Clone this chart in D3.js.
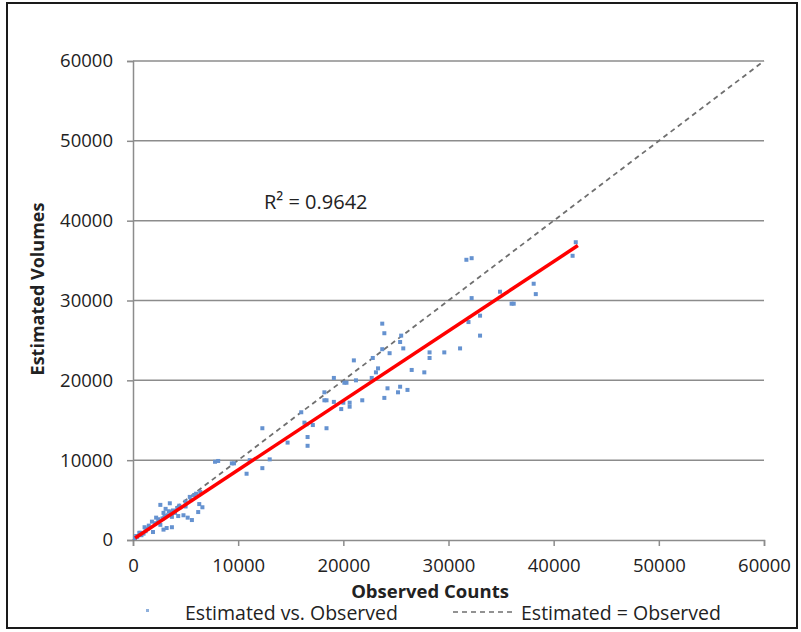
<!DOCTYPE html>
<html>
<head>
<meta charset="utf-8">
<script src="https://cdn.jsdelivr.net/npm/d3@7"></script>
<style>
  body { margin: 0; background: #fff; }
  text { font-family: "Open Sans", "Liberation Sans", sans-serif; fill: #222; }
</style>
</head>
<body>
<div id="chart"></div>
<script>
// chart data (observed count, estimated volume)
var observed = [42100, 41800, 31700, 32200, 32200, 34900, 36000, 36200, 38100, 38300,
  31900, 33000, 33000, 31100, 29600, 28200, 28200, 26500, 27700, 25400,
  25700, 25500, 23900, 23700, 24400, 23700, 22800, 21000, 23300, 23100,
  19100, 20100, 20300, 21200, 22700, 24200, 25400, 25200, 26100, 23900,
  18200, 18200, 18400, 19100, 20000, 19800, 20600, 20600, 21800, 16300,
  17100, 18400, 16000, 16500, 16600, 16600, 14700, 12300, 7800, 8100,
  9400, 9600, 11100, 13000, 12300, 10800,
  2600, 3500, 4500, 2900, 3300, 3700, 1800, 2100, 2600, 4800,
  5200, 5600, 6200, 6600, 1100, 1400, 700, 1000, 400, 200,
  2900, 3200, 3700, 1900, 6000, 6400, 5400,
  2400, 2800, 3000, 3400, 3800, 4200, 4000, 4400, 5000, 5500,
  1500, 1200, 800, 600, 300, 2200, 3100, 4300, 5800, 6300, 5000];
var estimated = [37300, 35600, 35100, 35300, 30300, 31100, 29600, 29600, 32100, 30800,
  27300, 28100, 25600, 24000, 23500, 23500, 22800, 21300, 21000, 24800,
  24000, 25600, 25900, 27100, 23400, 23900, 22800, 22500, 21500, 21000,
  20300, 19700, 19700, 20000, 20300, 19000, 19200, 18500, 18800, 17800,
  18500, 17500, 17500, 17300, 17200, 16400, 17200, 16700, 17500, 14700,
  14400, 14000, 16000, 14500, 12900, 11800, 12200, 14000, 9800, 9900,
  9600, 9600, 10000, 10100, 9000, 8300,
  4400, 4600, 4100, 3400, 3100, 2900, 2300, 2100, 1900, 3100,
  2800, 2500, 3500, 4100, 1600, 1400, 900, 800, 400, 250,
  1300, 1500, 1600, 1000, 5800, 6000, 5400,
  2600, 2700, 3000, 3600, 3700, 4000, 3400, 4300, 4800, 5000,
  1800, 1100, 600, 900, 500, 2800, 3900, 3000, 5600, 4500, 4200];

// linear trendline ends and R² label
var trendX = [200, 42300];
var trendY = [250, 36880];
var rSquared = "R² = 0.9642";

var ticks = [0, 10000, 20000, 30000, 40000, 50000, 60000];
var legendLabels = ["Estimated vs. Observed", "Estimated = Observed"];

var width = 801, height = 632;
var svg = d3.select("#chart").append("svg")
  .attr("width", width)
  .attr("height", height);

// outer frame
svg.append("rect")
  .attr("x", 7).attr("y", 3)
  .attr("width", 790).attr("height", 625)
  .attr("fill", "#fff")
  .attr("stroke", "#1a1a1a")
  .attr("stroke-width", 2);

var x = d3.scaleLinear().domain([0, 60000]).range([133, 764]);
var y = d3.scaleLinear().domain([0, 60000]).range([540, 61]);

// horizontal gridlines
svg.selectAll("line.grid").data(ticks.slice(1))
  .enter().append("line")
  .attr("class", "grid")
  .attr("x1", x(0)).attr("x2", x(60000))
  .attr("y1", d => y(d)).attr("y2", d => y(d))
  .attr("stroke", "#8c8c8c")
  .attr("stroke-width", 1.5);

// y axis
var yAxis = svg.append("g")
  .attr("transform", "translate(" + x(0) + ",0)")
  .call(d3.axisLeft(y).tickValues(ticks).tickFormat(d3.format("d")).tickSize(6).tickPadding(14));
// x axis
var xAxis = svg.append("g")
  .attr("transform", "translate(0," + y(0) + ")")
  .call(d3.axisBottom(x).tickValues(ticks).tickFormat(d3.format("d")).tickSize(6).tickPadding(13));

[xAxis, yAxis].forEach(function(a){
  a.select(".domain").attr("stroke", "#8c8c8c").attr("stroke-width", 1.5);
  a.selectAll(".tick line").attr("stroke", "#8c8c8c").attr("stroke-width", 1.5);
  a.selectAll(".tick text")
    .attr("fill", "#222")
    .style("font-family", "'Open Sans', sans-serif")
    .style("font-size", "18.5px");
});

// 1:1 reference line
svg.append("line")
  .attr("x1", x(0)).attr("y1", y(0))
  .attr("x2", x(60000)).attr("y2", y(60000))
  .attr("stroke", "#6f6f6f")
  .attr("stroke-width", 1.8)
  .attr("stroke-dasharray", "5,4");

// scatter points
var pts = observed.map(function(d, i){ return {x: d, y: estimated[i]}; });
svg.selectAll("rect.pt").data(pts)
  .enter().append("rect")
  .attr("class", "pt")
  .attr("x", d => x(d.x) - 2)
  .attr("y", d => y(d.y) - 2)
  .attr("width", 4).attr("height", 4)
  .attr("fill", "#6592d0");

// trendline
svg.append("line")
  .attr("x1", x(trendX[0])).attr("y1", y(trendY[0]))
  .attr("x2", x(trendX[1])).attr("y2", y(trendY[1]))
  .attr("stroke", "#ff0000")
  .attr("stroke-width", 3.5);

svg.append("text")
  .attr("x", 264).attr("y", 209)
  .style("font-size", "20px")
  .text(rSquared);

// axis titles
svg.append("text")
  .attr("x", 430).attr("y", 598)
  .attr("text-anchor", "middle")
  .style("font-size", "18.5px")
  .style("font-weight", "bold")
  .text("Observed Counts");

svg.append("text")
  .attr("transform", "translate(44,289) rotate(-90)")
  .attr("text-anchor", "middle")
  .style("font-size", "18px")
  .style("font-weight", "bold")
  .text("Estimated Volumes");

// legend
svg.append("rect")
  .attr("x", 146).attr("y", 609)
  .attr("width", 3).attr("height", 3)
  .attr("fill", "#8fb0dc");
svg.append("text")
  .attr("x", 185).attr("y", 620)
  .style("font-size", "19.5px")
  .text(legendLabels[0]);
svg.append("line")
  .attr("x1", 453).attr("x2", 516)
  .attr("y1", 612).attr("y2", 612)
  .attr("stroke", "#6f6f6f")
  .attr("stroke-width", 1.3)
  .attr("stroke-dasharray", "5,4");
svg.append("text")
  .attr("x", 521).attr("y", 620)
  .style("font-size", "19.5px")
  .text(legendLabels[1]);
</script>
</body>
</html>
